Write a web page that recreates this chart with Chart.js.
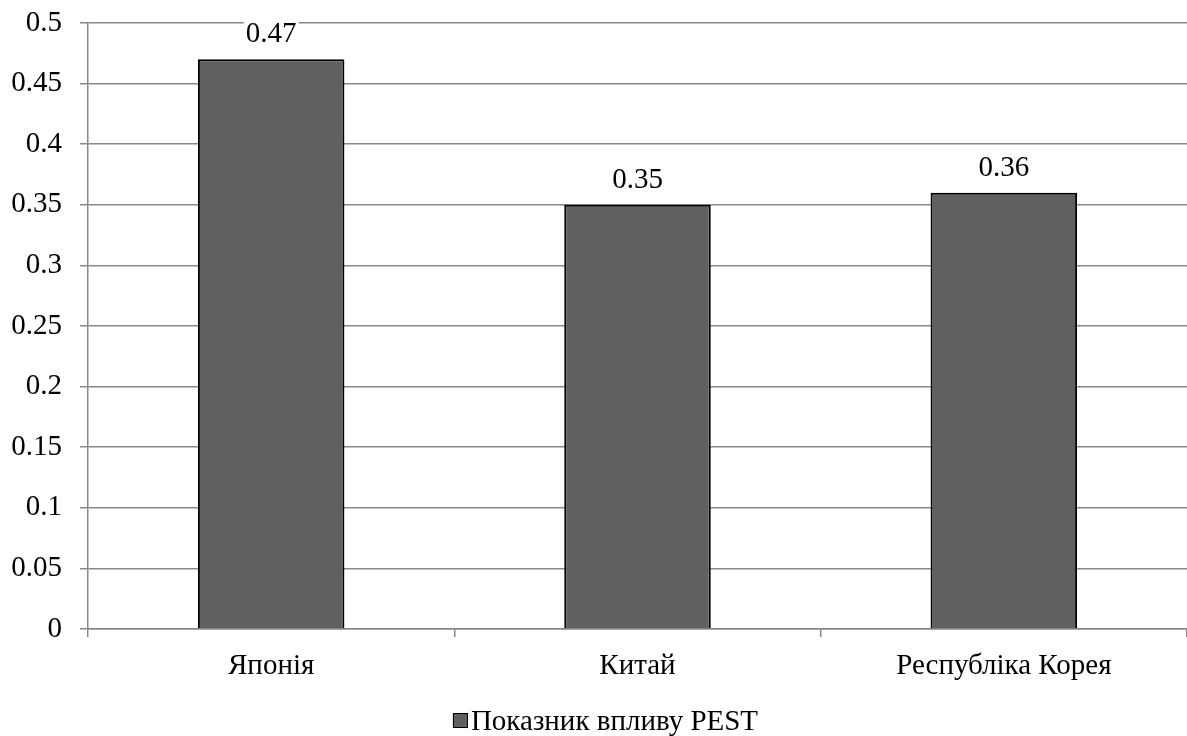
<!DOCTYPE html>
<html>
<head>
<meta charset="utf-8">
<script src="https://cdn.jsdelivr.net/npm/chart.js@4/dist/chart.umd.min.js"></script>
<style>
  html, body { margin: 0; padding: 0; background: #ffffff; }
  #wrap { width: 1187px; height: 736px; }
</style>
</head>
<body>
<div id="wrap"><canvas id="c" width="1187" height="736"></canvas></div>
<script>
// Countries and their PEST impact score
const countries = ['Японія', 'Китай', 'Республіка Корея'];
const pestValues = [0.47, 0.35, 0.36];
const seriesName = 'Показник впливу PEST';
const yMin = 0;
const yMax = 0.5;
const yStep = 0.05;

const FONT = '"Liberation Serif", "Times New Roman", serif';
const FONT_SIZE = 29;
const BAR_FILL = '#606060';

// Writes each bar's value above it on a white patch
const valueLabels = {
  id: 'valueLabels',
  afterDatasetsDraw(chart) {
    const ctx = chart.ctx;
    const meta = chart.getDatasetMeta(0);
    ctx.save();
    ctx.font = FONT_SIZE + 'px ' + FONT;
    ctx.textAlign = 'center';
    ctx.textBaseline = 'alphabetic';
    meta.data.forEach((bar, i) => {
      const txt = String(pestValues[i]);
      const w = ctx.measureText(txt).width;
      const base = bar.y - 17;
      ctx.fillStyle = '#ffffff';
      ctx.fillRect(bar.x - w / 2 - 2, base - 22, w + 4, 27);
      ctx.fillStyle = '#000';
      ctx.fillText(txt, bar.x, base);
    });
    ctx.restore();
  }
};

// Legend row under the axis: small square swatch then the series name
const bottomLegend = {
  id: 'bottomLegend',
  afterDraw(chart) {
    const ctx = chart.ctx;
    const ds = chart.data.datasets[0];
    ctx.save();
    ctx.font = FONT_SIZE + 'px ' + FONT;
    const box = 15, gap = 3;
    const tw = ctx.measureText(ds.label).width;
    const total = box + gap + tw;
    const left = chart.width / 2 + 12 - total / 2;
    const base = 730;
    ctx.fillStyle = ds.backgroundColor;
    ctx.fillRect(left, base - 17, box, box);
    ctx.strokeStyle = '#000';
    ctx.lineWidth = 1;
    ctx.strokeRect(left + 0.5, base - 16.5, box - 1, box - 1);
    ctx.fillStyle = '#000';
    ctx.textBaseline = 'alphabetic';
    ctx.textAlign = 'left';
    ctx.fillText(ds.label, left + box + gap, base);
    ctx.restore();
  }
};

new Chart(document.getElementById('c'), {
  type: 'bar',
  data: {
    labels: countries,
    datasets: [{
      label: seriesName,
      data: pestValues,
      backgroundColor: BAR_FILL,
      borderColor: '#000000',
      borderWidth: 2,
      barPercentage: 0.4,
      categoryPercentage: 1.0
    }]
  },
  options: {
    responsive: false,
    animation: false,
    layout: { padding: 0 },
    plugins: {
      legend: { display: false },
      tooltip: { enabled: false }
    },
    scales: {
      x: {
        offset: true,
        grid: {
          offset: true,
          drawOnChartArea: false,
          drawTicks: true,
          tickLength: 8,
          color: '#888888',
          lineWidth: 1.5
        },
        border: { color: '#888888', width: 1.5 },
        ticks: {
          font: { family: FONT, size: FONT_SIZE },
          color: '#000',
          padding: 12
        },
        afterFit(scale) { scale.height = 107; }
      },
      y: {
        min: yMin,
        max: yMax,
        grid: {
          color: '#888888',
          lineWidth: 1.5,
          tickLength: 8
        },
        border: { color: '#888888', width: 1.5 },
        ticks: {
          stepSize: yStep,
          font: { family: FONT, size: FONT_SIZE },
          color: '#000',
          padding: 18,
          callback: (v) => String(parseFloat(Number(v).toFixed(2)))
        },
        afterFit(scale) {
          scale.width = 88;
          scale.paddingTop = 23;
          scale.paddingBottom = 0;
        }
      }
    }
  },
  plugins: [valueLabels, bottomLegend]
});
</script>
</body>
</html>
